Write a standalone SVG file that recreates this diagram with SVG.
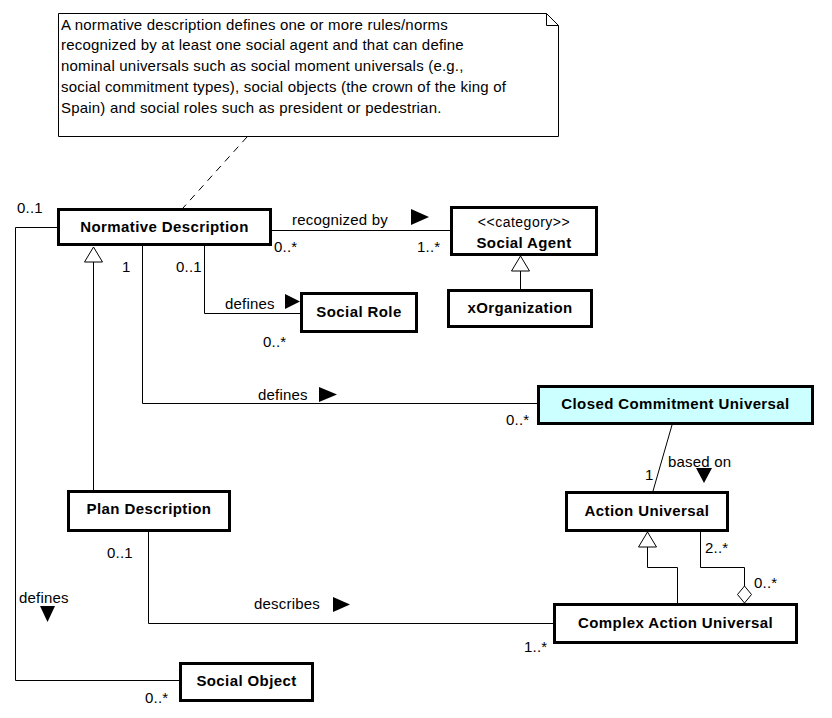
<svg xmlns="http://www.w3.org/2000/svg" width="832" height="718" viewBox="0 0 832 718">
<style>
.box{fill:#fff;stroke:#000;stroke-width:3}
.cyan{fill:#ccffff}
.ln{fill:none;stroke:#000;stroke-width:1}
.name{font-family:"Liberation Sans",Arial,sans-serif;font-size:15px;font-weight:bold;letter-spacing:0.4px;text-anchor:middle;fill:#000}
.st{font-family:"Liberation Sans",Arial,sans-serif;font-size:14px;letter-spacing:0.5px;text-anchor:middle;fill:#000}
.lab{font-family:"Liberation Sans",Arial,sans-serif;font-size:15px;letter-spacing:0.2px;fill:#000}
.note{font-family:"Liberation Sans",Arial,sans-serif;font-size:15px;letter-spacing:0.2px;fill:#000}
.tri{fill:#000;stroke:none}
.hol{fill:#fff;stroke:#000;stroke-width:1}
</style>
<rect width="832" height="718" fill="#fff"/>
<g id="note">
<path class="hol" d="M58.5,13.5 H546.5 L558.5,25.5 V136.5 H58.5 Z"/>
<path class="ln" d="M546.5,13.5 V25.5 H558.5"/>
<text class="note" x="61" y="29.5">A normative description defines one or more rules/norms</text>
<text class="note" x="61" y="50.25">recognized by at least one social agent and that can define</text>
<text class="note" x="61" y="71">nominal universals such as social moment universals (e.g.,</text>
<text class="note" x="61" y="91.75">social commitment types), social objects (the crown of the king of</text>
<text class="note" x="61" y="112.5">Spain) and social roles such as president or pedestrian.</text>
</g>
<g id="connectors">
<path class="ln" d="M247,137 L183,208" stroke-dasharray="7,6"/>
<path class="ln" d="M57,227.5 H15.5 V680.5 H179"/>
<path class="ln" d="M93.5,490 V262"/>
<polygon class="hol" points="93.5,247 84.5,262 102.5,262"/>
<path class="ln" d="M142.5,246 V403.5 H537"/>
<path class="ln" d="M204.5,246 V313.5 H300"/>
<path class="ln" d="M272,230.5 H450"/>
<path class="ln" d="M520.5,289 V271"/>
<polygon class="hol" points="520.5,256 511.5,271 529.5,271"/>
<path class="ln" d="M672,425 L653,491"/>
<path class="ln" d="M148.5,532 V623.5 H553"/>
<path class="ln" d="M677.5,603 V567.5 H647.5 V547"/>
<polygon class="hol" points="647.5,532 638.5,547 656.5,547"/>
<path class="ln" d="M700.5,532 V567.5 H744.5 V586"/>
<polygon class="hol" points="744.5,586 751.5,594.5 744.5,603 737.5,594.5"/>
<polygon class="tri" points="411,209 411,225 429,217"/>
<polygon class="tri" points="285,294 285,309 300,301.5"/>
<polygon class="tri" points="319,387 319,402 337,394.5"/>
<polygon class="tri" points="696,468 712,468 704,483"/>
<polygon class="tri" points="40,606 55,606 47.5,622"/>
<polygon class="tri" points="333,597 333,612 350,604.5"/>
<text class="lab" x="292" y="225">recognized by</text>
<text class="lab" x="274" y="252">0..*</text>
<text class="lab" x="417" y="252">1..*</text>
<text class="lab" x="17" y="213">0..1</text>
<text class="lab" x="122" y="272">1</text>
<text class="lab" x="176" y="272">0..1</text>
<text class="lab" x="225" y="309">defines</text>
<text class="lab" x="263" y="347">0..*</text>
<text class="lab" x="258" y="400">defines</text>
<text class="lab" x="506" y="425">0..*</text>
<text class="lab" x="668" y="467">based on</text>
<text class="lab" x="645" y="480">1</text>
<text class="lab" x="705" y="553">2..*</text>
<text class="lab" x="754" y="588">0..*</text>
<text class="lab" x="107" y="558">0..1</text>
<text class="lab" x="254" y="609">describes</text>
<text class="lab" x="524" y="652">1..*</text>
<text class="lab" x="19" y="603">defines</text>
<text class="lab" x="145" y="703">0..*</text>
</g>
<g id="normative-description">
<rect class="box" x="58.5" y="209.5" width="212" height="35"/>
<text class="name" x="164.5" y="232">Normative Description</text>
</g>
<g id="social-agent">
<rect class="box" x="451.5" y="207.5" width="145" height="47"/>
<text class="st" x="524" y="227">&lt;&lt;category&gt;&gt;</text>
<text class="name" x="524" y="248">Social Agent</text>
</g>
<g id="xorganization">
<rect class="box" x="448.5" y="290.5" width="143" height="36"/>
<text class="name" x="520" y="313">xOrganization</text>
</g>
<g id="social-role">
<rect class="box" x="301.5" y="293.5" width="115" height="38"/>
<text class="name" x="359" y="317">Social Role</text>
</g>
<g id="closed-commitment-universal">
<rect class="box cyan" x="538.5" y="386.5" width="274" height="37"/>
<text class="name" x="675.5" y="409">Closed Commitment Universal</text>
</g>
<g id="action-universal">
<rect class="box" x="566.5" y="492.5" width="161" height="38"/>
<text class="name" x="647" y="516">Action Universal</text>
</g>
<g id="plan-description">
<rect class="box" x="68.5" y="491.5" width="161" height="39"/>
<text class="name" x="149" y="514">Plan Description</text>
</g>
<g id="complex-action-universal">
<rect class="box" x="554.5" y="604.5" width="242" height="38"/>
<text class="name" x="675.5" y="628">Complex Action Universal</text>
</g>
<g id="social-object">
<rect class="box" x="180.5" y="663.5" width="132" height="37"/>
<text class="name" x="246.5" y="686">Social Object</text>
</g>
</svg>
